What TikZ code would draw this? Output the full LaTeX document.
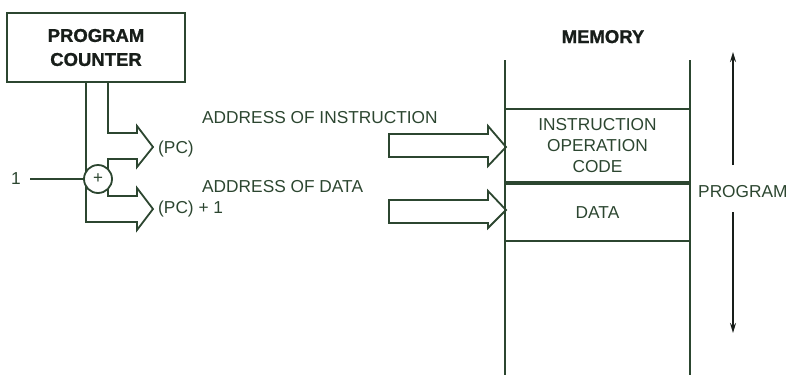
\documentclass[tikz,border=0pt]{standalone}
\usepackage{fontspec}
\setmainfont{Liberation Sans}
\newfontfamily\heavyfont{Liberation Sans Bold}[FakeBold=1.2]
\usetikzlibrary{arrows.meta}
\definecolor{ink}{RGB}{44,70,48}
\definecolor{dark}{RGB}{24,30,26}
\tikzset{
  wire/.style={draw=ink, line width=1.8pt, line join=miter},
  lbl/.style={text=ink, font=\fontsize{17.3}{21}\selectfont, inner sep=0pt},
  head/.style={text=dark, font=\fontsize{18.5}{24}\heavyfont, inner sep=0pt},
  span/.style={draw=dark, line width=1.6pt, -{Stealth[length=10pt,width=6pt]}}
}
\begin{document}
\begin{tikzpicture}[x=1pt,y=-1pt]
\useasboundingbox (0,0) rectangle (789,375);

% program counter register
\node[wire, minimum width=178pt, minimum height=69pt, inner sep=0pt,
      head, align=center] (pc) at (96,47.5) {PROGRAM\\COUNTER};

% bus edges leaving the counter
\coordinate (busL) at (86,82);
\coordinate (busR) at (108,82);

% (PC) output arrow
\draw[wire] (busR) -- (108,133) -- (137,133) -- (137,126) -- (153,147)
            -- (137,167) -- (137,159) -- (108,159) -- (108,172);
% (PC)+1 output arrow
\draw[wire] (108,188) -- (108,196) -- (137,196) -- (137,188) -- (153,209)
            -- (137,230) -- (137,222) -- (86,222) -- (busL);

% incrementer
\node[wire, circle, fill=white, minimum size=28pt, inner sep=0pt,
      text=ink, font=\fontsize{17}{17}\selectfont] (add) at (98,179) {+};
\node[lbl, anchor=base] (one) at (16,184) {1};
\draw[wire] (30,179) -- (add.west);

\node[lbl, anchor=base west] (pcl) at (158,153) {(PC)};
\node[lbl, anchor=base west] (pcl1) at (158,213) {(PC) + 1};

\node[lbl, anchor=base west] (ai) at (202,123) {ADDRESS OF INSTRUCTION};
\node[lbl, anchor=base west] (ad) at (202,192) {ADDRESS OF DATA};

% hollow address arrows into memory
\draw[wire] (389,134) -- (488,134) -- (488,126) -- (506,147) -- (488,166)
            -- (488,157) -- (389,157) -- cycle;
\draw[wire] (389,200) -- (488,200) -- (488,191) -- (506,210) -- (488,228)
            -- (488,223) -- (389,223) -- cycle;

% memory column
\node[head, anchor=base] (mem) at (603,43) {MEMORY};
\draw[wire] (505,60) -- (505,375);
\draw[wire] (690,60) -- (690,375);
\node[wire, minimum width=185pt, minimum height=73pt, inner sep=0pt,
      lbl, align=center] (instr) at (597.5,145.5) {INSTRUCTION\\OPERATION\\CODE};
\node[wire, minimum width=185pt, minimum height=57pt, inner sep=0pt,
      lbl, anchor=north] (data) at (instr.south) {DATA};

% program extent
\node[lbl, anchor=base west] (prog) at (698,197) {PROGRAM};
\coordinate (upS) at (733,165);
\coordinate (upE) at (733,52);
\coordinate (dnS) at (733,212);
\coordinate (dnE) at (733,333);
\draw[span] (upS) -- (upE);
\draw[span] (dnS) -- (dnE);
\end{tikzpicture}
\end{document}
